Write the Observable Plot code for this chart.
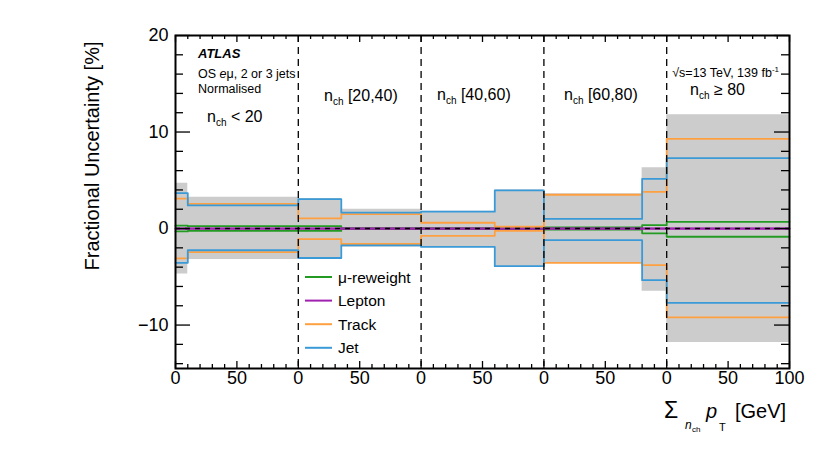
<!DOCTYPE html>
<html><head><meta charset="utf-8">
<script src="https://cdn.jsdelivr.net/npm/d3@7"></script>
<script src="https://cdn.jsdelivr.net/npm/@observablehq/plot@0.6"></script>
<style>
body{margin:0;background:#fff;}
#chart{position:relative;width:830px;height:450px;}
</style>
</head><body><div id="chart"></div>
<script>
// bin edges in a concatenated axis (5 panels of 0-100)
const binEdges = [0, 10, 100, 135, 200, 260, 300, 380, 400, 500];
const panelBounds = [100, 200, 300, 400];
const panelLabels = ["< 20", "[20,40)", "[40,60)", "[60,80)", "\u2265 80"];

const totalUp   = [4.7, 3.25, 3.1, 2.0, 1.8, 4.0, 3.6, 6.3, 11.8];
const totalDown = [-4.7, -3.2, -3.1, -1.95, -1.95, -3.95, -3.6, -6.5, -11.8];
const jetUp     = [3.67, 2.4, 3.05, 1.65, 1.75, 3.95, 1.0, 5.15, 7.3];
const jetDown   = [-3.55, -2.25, -3.05, -1.75, -1.9, -3.9, -1.2, -5.35, -7.7];
const trackUp   = [3.1, 2.55, 1.05, 1.5, 0.6, 0.2, 3.5, 3.8, 9.3];
const trackDown = [-3.1, -2.45, -1.1, -1.6, -0.75, -0.25, -3.55, -3.8, -9.2];
const muUp      = [0.3, 0.25, 0.25, 0.05, 0.05, 0.05, 0.12, 0.35, 0.7];
const muDown    = [-0.3, -0.25, -0.25, -0.05, -0.05, -0.05, -0.12, -0.5, -0.85];
const lepUp     = [0.02, 0.02, 0.02, 0.02, 0.02, 0.02, 0.02, 0.02, 0.02];
const lepDown   = [-0.02, -0.02, -0.02, -0.02, -0.02, -0.02, -0.02, -0.02, -0.02];

const seriesNames  = ["\u03bc-reweight", "Lepton", "Track", "Jet"];
const seriesColors = ["#239b23", "#a020b0", "#ffa040", "#3a9ad8"];

const xMajorTicks = [0, 50, 100, 150, 200, 250, 300, 350, 400, 450, 500];
const xMinorTicks = d3.range(0, 501, 10);
const yMajorTicks = [-10, 0, 10, 20];
const yMinorTicks = d3.range(-14, 21, 2);

const W = 830, H = 450, ML = 175, MR = 41, MT = 35, MB = 82;
const xDomain = [0, 500], yDomain = [-14.5, 20];
const pxPerX = (W - ML - MR) / (xDomain[1] - xDomain[0]);
const pxPerY = (H - MT - MB) / (yDomain[1] - yDomain[0]);

const steps = (vals) => binEdges.map((x, i) => ({x, y: vals[Math.min(i, vals.length - 1)]}));
const band = binEdges.map((x, i) => ({x, lo: totalDown[Math.min(i, 8)], hi: totalUp[Math.min(i, 8)]}));

const series = [
  [muUp, muDown], [lepUp, lepDown], [trackUp, trackDown], [jetUp, jetDown]
];

const lineMarks = [];
series.forEach(([u, d], i) => {
  lineMarks.push(Plot.line(steps(u), {x: "x", y: "y", curve: "step-after", stroke: seriesColors[i], strokeWidth: 1.8}));
  lineMarks.push(Plot.line(steps(d), {x: "x", y: "y", curve: "step-after", stroke: seriesColors[i], strokeWidth: 1.8}));
});

const xMaj = 7 / pxPerY, xMin = 4 / pxPerY;   // tick lengths in y units
const yMaj = 15 / pxPerX, yMin = 8 / pxPerX;  // tick lengths in x units
const isMajX = (v) => v % 50 === 0;
const isMajY = (v) => v % 10 === 0;

const svg = Plot.plot({
  width: W, height: H,
  marginLeft: ML, marginRight: MR, marginTop: MT, marginBottom: MB,
  x: {domain: xDomain, label: null},
  y: {domain: yDomain, label: null},
  style: {fontFamily: "Liberation Sans, Arial, sans-serif", fontSize: "18px", background: "white", color: "black"},
  marks: [
    Plot.areaY(band, {x: "x", y1: "lo", y2: "hi", curve: "step-after", fill: "#cccccc"}),
    ...lineMarks,
    Plot.ruleY([0], {stroke: "black", strokeWidth: 1.5, strokeDasharray: "5,5"}),
    Plot.ruleX(panelBounds, {stroke: "black", strokeWidth: 1.3, strokeDasharray: "7,5"}),
    // inward ticks
    Plot.ruleX(xMinorTicks, {x: d => d, y1: yDomain[0], y2: d => yDomain[0] + (isMajX(d) ? xMaj : xMin), stroke: "black", strokeWidth: 1.3}),
    Plot.ruleX(xMinorTicks, {x: d => d, y1: yDomain[1], y2: d => yDomain[1] - (isMajX(d) ? xMaj : xMin), stroke: "black", strokeWidth: 1.3}),
    Plot.ruleY(yMinorTicks, {y: d => d, x1: xDomain[0], x2: d => xDomain[0] + (isMajY(d) ? yMaj : yMin), stroke: "black", strokeWidth: 1.3}),
    Plot.ruleY(yMinorTicks, {y: d => d, x1: xDomain[1], x2: d => xDomain[1] - (isMajY(d) ? yMaj : yMin), stroke: "black", strokeWidth: 1.3}),
    Plot.frame({stroke: "black", strokeWidth: 2}),
    Plot.axisX(xMajorTicks, {tickSize: 0, tickPadding: 3, fontSize: 18, label: null,
      tickFormat: d => d === 500 ? "100" : (d % 100 === 0 ? "0" : "50")}),
    Plot.axisY(yMajorTicks, {tickSize: 0, tickPadding: 7, fontSize: 18, label: null})
  ]
});

document.getElementById("chart").appendChild(svg);
const s = d3.select(svg);
const FF = "Liberation Sans, Arial, sans-serif";

function addText(x, y, size, parts, opts = {}) {
  const t = s.append("text").attr("x", x).attr("y", y).attr("font-size", size)
    .attr("font-family", FF).attr("fill", "black")
    .attr("text-anchor", opts.anchor || "start")
    .attr("xml:space", "preserve");
  if (opts.weight) t.attr("font-weight", opts.weight);
  if (opts.style) t.attr("font-style", opts.style);
  if (opts.transform) t.attr("transform", opts.transform);
  parts.forEach(p => {
    const ts = t.append("tspan").text(p.t);
    if (p.size) ts.attr("font-size", p.size);
    if (p.dy) ts.attr("dy", p.dy);
    if (p.x != null) ts.attr("x", p.x);
    if (p.y != null) ts.attr("y", p.y);
    if (p.italic) ts.attr("font-style", "italic");
  });
  return t;
}

// ATLAS labels
addText(198, 57.5, 13, [{t: "ATLAS"}], {weight: "bold", style: "italic"});
addText(198, 78, 12.5, [{t: "OS "}, {t: "e", italic: true}, {t: "\u03bc, 2 or 3 jets"}]);
addText(198, 93, 12.5, [{t: "Normalised"}]);
addText(779, 77, 12.5, [{t: "\u221as=13 TeV, 139 fb"}, {t: "-1", size: 8, dy: -5}], {anchor: "end"});

// panel labels
const labelPos = [[207, 122], [324, 101], [437, 100], [564, 100], [690, 95]];
panelLabels.forEach((lab, i) => {
  addText(labelPos[i][0], labelPos[i][1], 16, [{t: "n"}, {t: "ch", size: 10, dy: 4}, {t: " " + lab, dy: -4}]);
});

// legend
const legX = 305, legY0 = 277, legDy = 23.6;
seriesNames.forEach((name, i) => {
  const y = legY0 + i * legDy;
  s.append("line").attr("x1", legX).attr("x2", legX + 27).attr("y1", y).attr("y2", y)
    .attr("stroke", seriesColors[i]).attr("stroke-width", 2);
  addText(legX + 33, y + 5.5, 15.5, [{t: name}]);
});

// axis titles
addText(99, 156, 20, [{t: "Fractional Uncertainty [%]"}], {anchor: "middle", transform: "rotate(-90,99,156)"});
addText(664, 418, 20, [
  {t: "\u03a3", size: 23, x: 664, y: 418},
  {t: "n", size: 12, italic: true, x: 685, y: 429},
  {t: "ch", size: 8, x: 692, y: 432},
  {t: "p", size: 20, italic: true, x: 706, y: 418},
  {t: "T", size: 11, x: 719, y: 431},
  {t: "[GeV]", size: 20, x: 735, y: 418}
]);
</script>
</body></html>
